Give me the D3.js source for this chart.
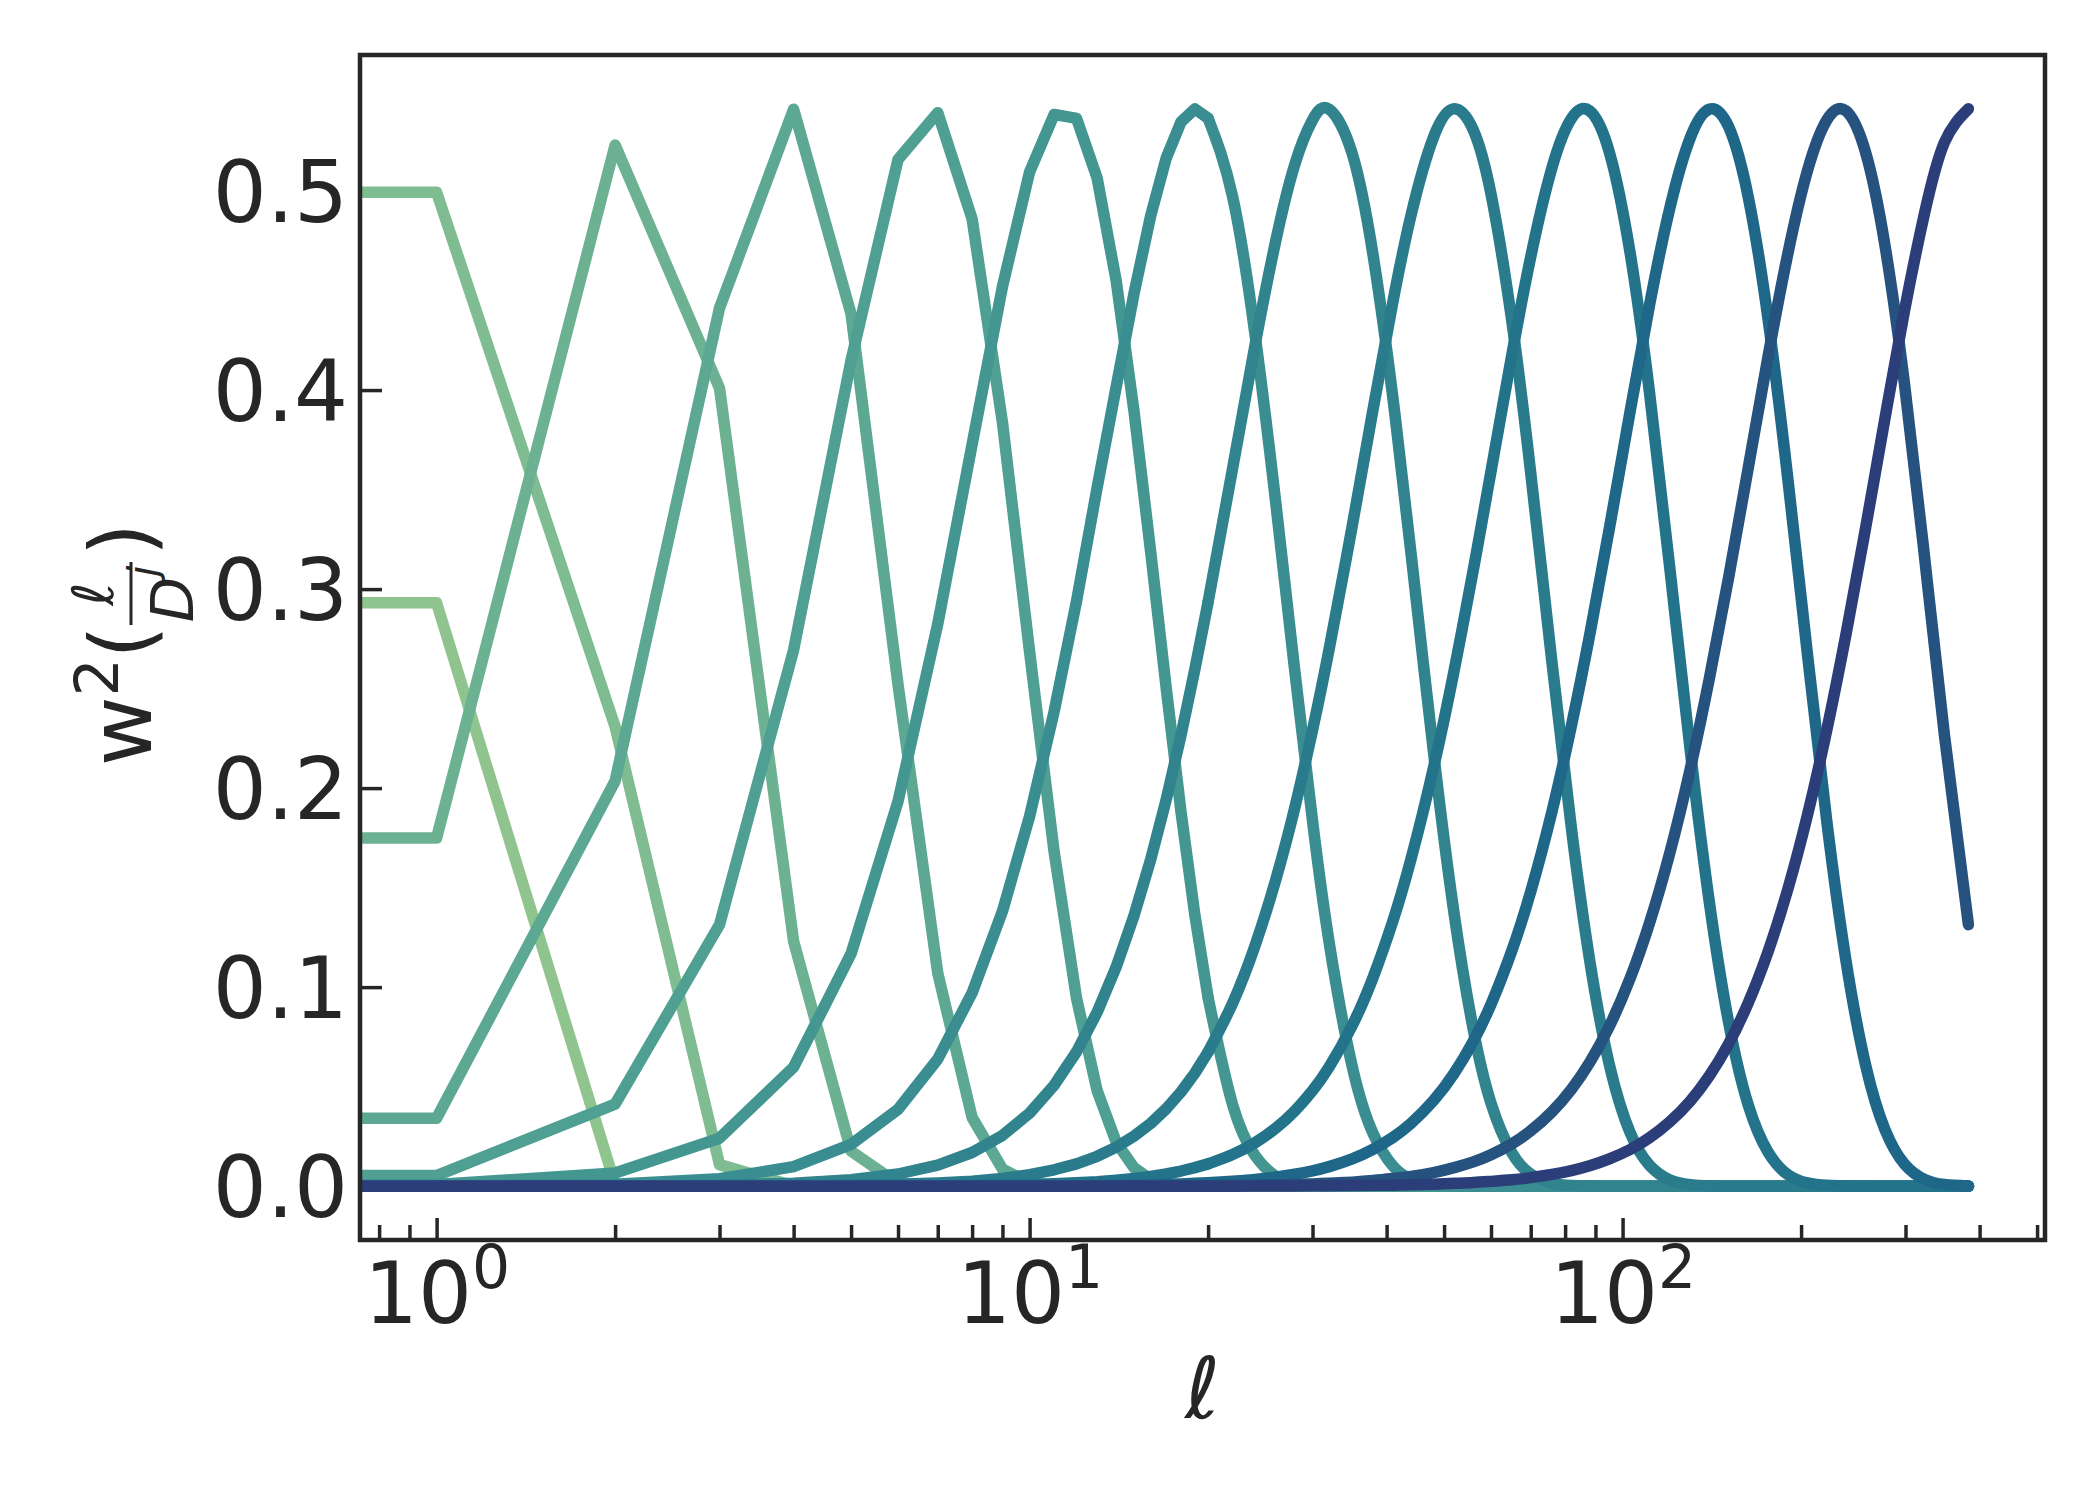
<!DOCTYPE html>
<html lang="en">
<head>
<meta charset="UTF-8">
<title>Needlet windows</title>
<script src="https://d3js.org/d3.v7.min.js"></script>
<style>
  body { margin: 0; background: #fff; }
  text { font-family: "DejaVu Sans", sans-serif; fill: #262626; }
  .band { fill: none; stroke-width: 11.5px; stroke-linecap: round; stroke-linejoin: round; }
</style>
</head>
<body>
<svg width="2100" height="1500"></svg>
<script>
const ells = [1, 2, 3, 4, 5, 6, 7, 8, 9, 10, 11, 12, 13, 14, 15, 16, 17, 18, 19, 20,
  22, 24, 26, 28, 30, 32, 35, 38, 41, 44, 48, 52, 56, 60, 65, 70, 76, 82, 88, 95,
  103, 111, 120, 130, 140, 151, 163, 176, 190, 205, 221, 238, 257, 277, 299, 323, 349, 383];

// w^2(l / D^j), one array per scale j
const w2_j0 = [0.2931, 0.0009, 0, 0, 0, 0, 0, 0, 0, 0, 0, 0, 0, 0, 0, 0, 0, 0, 0, 0,
  0, 0, 0, 0, 0, 0, 0, 0, 0, 0, 0, 0, 0, 0, 0, 0, 0, 0, 0, 0,
  0, 0, 0, 0, 0, 0, 0, 0, 0, 0, 0, 0, 0, 0, 0, 0, 0, 0];
const w2_j1 = [0.4994, 0.2309, 0.0108, 0.0001, 0, 0, 0, 0, 0, 0, 0, 0, 0, 0, 0, 0, 0, 0, 0, 0,
  0, 0, 0, 0, 0, 0, 0, 0, 0, 0, 0, 0, 0, 0, 0, 0, 0, 0, 0, 0,
  0, 0, 0, 0, 0, 0, 0, 0, 0, 0, 0, 0, 0, 0, 0, 0, 0, 0];
const w2_j2 = [0.1749, 0.5231, 0.4009, 0.1230, 0.0176, 0.0013, 0, 0, 0, 0, 0, 0, 0, 0, 0, 0, 0, 0, 0, 0,
  0, 0, 0, 0, 0, 0, 0, 0, 0, 0, 0, 0, 0, 0, 0, 0, 0, 0, 0, 0,
  0, 0, 0, 0, 0, 0, 0, 0, 0, 0, 0, 0, 0, 0, 0, 0, 0, 0];
const w2_j3 = [0.0341, 0.2036, 0.4412, 0.5411, 0.4382, 0.2520, 0.1071, 0.0345, 0.0086, 0.0017,
  0.0003, 0, 0, 0, 0, 0, 0, 0, 0, 0,
  0, 0, 0, 0, 0, 0, 0, 0, 0, 0, 0, 0, 0, 0, 0, 0, 0, 0, 0, 0,
  0, 0, 0, 0, 0, 0, 0, 0, 0, 0, 0, 0, 0, 0, 0, 0, 0, 0];
const w2_j4 = [0.0053, 0.0412, 0.1314, 0.2694, 0.4149, 0.5159, 0.5394, 0.4860, 0.3838, 0.2685,
  0.1679, 0.0944, 0.0479, 0.0221, 0.0092, 0.0035, 0.0012, 0.0004, 0.0001, 0,
  0, 0, 0, 0, 0, 0, 0, 0, 0, 0, 0, 0, 0, 0, 0, 0, 0, 0, 0, 0,
  0, 0, 0, 0, 0, 0, 0, 0, 0, 0, 0, 0, 0, 0, 0, 0, 0, 0];
const w2_j5 = [0.0008, 0.0066, 0.0241, 0.0598, 0.1168, 0.1934, 0.2824, 0.3727, 0.4520, 0.5096,
  0.5385, 0.5365, 0.5065, 0.4548, 0.3894, 0.3189, 0.2501, 0.1882, 0.1361, 0.0947,
  0.0409, 0.0154, 0.0050, 0.0014, 0.0004, 0.0001, 0, 0, 0, 0, 0, 0, 0, 0, 0, 0, 0, 0, 0, 0,
  0, 0, 0, 0, 0, 0, 0, 0, 0, 0, 0, 0, 0, 0, 0, 0, 0, 0];
const w2_j6 = [0.0001, 0.0010, 0.0037, 0.0098, 0.0210, 0.0386, 0.0638, 0.0971, 0.1381, 0.1858,
  0.2385, 0.2939, 0.3510, 0.4017, 0.4485, 0.4875, 0.5166, 0.5347, 0.5413, 0.5366,
  0.4971, 0.4278, 0.3438, 0.2590, 0.1835, 0.1225, 0.0601, 0.0261, 0.0101, 0.0035,
  0.0007, 0.0001, 0, 0, 0, 0, 0, 0, 0, 0,
  0, 0, 0, 0, 0, 0, 0, 0, 0, 0, 0, 0, 0, 0, 0, 0, 0, 0];
const w2_j7 = [0, 0.0001, 0.0005, 0.0014, 0.0032, 0.0061, 0.0106, 0.0169, 0.0255, 0.0367,
  0.0507, 0.0675, 0.0874, 0.1102, 0.1359, 0.1640, 0.1943, 0.2264, 0.2597, 0.2935,
  0.3607, 0.4226, 0.4748, 0.5133, 0.5357, 0.5411, 0.5188, 0.4668, 0.3958, 0.3174,
  0.2178, 0.1367, 0.0788, 0.0417, 0.0170, 0.0061, 0.0015, 0.0003, 0.0001, 0,
  0, 0, 0, 0, 0, 0, 0, 0, 0, 0, 0, 0, 0, 0, 0, 0, 0, 0];
const w2_j8 = [0, 0, 0.0001, 0.0002, 0.0005, 0.0009, 0.0016, 0.0025, 0.0039, 0.0058,
  0.0082, 0.0112, 0.0150, 0.0196, 0.0251, 0.0315, 0.0389, 0.0473, 0.0568, 0.0674,
  0.0920, 0.1209, 0.1538, 0.1901, 0.2291, 0.2698, 0.3317, 0.3912, 0.4445, 0.4881,
  0.5271, 0.5413, 0.5307, 0.4984, 0.4353, 0.3583, 0.2634, 0.1795, 0.1136, 0.0610,
  0.0268, 0.0105, 0.0032, 0.0007, 0.0001, 0, 0, 0, 0, 0, 0, 0, 0, 0, 0, 0, 0, 0];
const w2_j9 = [0, 0, 0, 0, 0.0001, 0.0001, 0.0002, 0.0004, 0.0006, 0.0008,
  0.0012, 0.0017, 0.0022, 0.0030, 0.0038, 0.0049, 0.0061, 0.0076, 0.0093, 0.0112,
  0.0159, 0.0218, 0.0291, 0.0378, 0.0480, 0.0599, 0.0807, 0.1053, 0.1333, 0.1646,
  0.2103, 0.2592, 0.3095, 0.3592, 0.4171, 0.4669, 0.5116, 0.5365, 0.5403, 0.5195,
  0.4687, 0.3990, 0.3118, 0.2195, 0.1431, 0.0821, 0.0405, 0.0170, 0.0058, 0.0016,
  0.0004, 0.0001, 0, 0, 0, 0, 0, 0];
const w2_j10 = [0, 0, 0, 0, 0, 0, 0, 0.0001, 0.0001, 0.0001,
  0.0002, 0.0002, 0.0003, 0.0004, 0.0006, 0.0007, 0.0009, 0.0011, 0.0014, 0.0017,
  0.0024, 0.0033, 0.0045, 0.0060, 0.0077, 0.0098, 0.0137, 0.0186, 0.0245, 0.0316,
  0.0430, 0.0567, 0.0728, 0.0914, 0.1180, 0.1480, 0.1881, 0.2315, 0.2769, 0.3305,
  0.3895, 0.4425, 0.4908, 0.5266, 0.5411, 0.5322, 0.4966, 0.4353, 0.3552, 0.2672,
  0.1833, 0.1136, 0.0607, 0.0284, 0.0110, 0.0034, 0.0008, 0.0001];
const w2_j11 = [0, 0, 0, 0, 0, 0, 0, 0, 0, 0,
  0, 0, 0, 0.0001, 0.0001, 0.0001, 0.0001, 0.0002, 0.0002, 0.0002,
  0.0003, 0.0005, 0.0006, 0.0009, 0.0011, 0.0014, 0.0020, 0.0028, 0.0038, 0.0049,
  0.0068, 0.0093, 0.0122, 0.0158, 0.0212, 0.0278, 0.0373, 0.0487, 0.0621, 0.0803,
  0.1045, 0.1321, 0.1669, 0.2094, 0.2547, 0.3060, 0.3613, 0.4171, 0.4686, 0.5102,
  0.5357, 0.5403, 0.5193, 0.4727, 0.4024, 0.3162, 0.2265, 0.1314];
const w2_j12 = [0, 0, 0, 0, 0, 0, 0, 0, 0, 0,
  0, 0, 0, 0, 0, 0, 0, 0, 0, 0,
  0, 0.0001, 0.0001, 0.0001, 0.0002, 0.0002, 0.0003, 0.0004, 0.0005, 0.0007,
  0.0010, 0.0014, 0.0018, 0.0024, 0.0032, 0.0043, 0.0059, 0.0078, 0.0102, 0.0137,
  0.0184, 0.0243, 0.0322, 0.0427, 0.0553, 0.0716, 0.0923, 0.1180, 0.1493, 0.1864,
  0.2292, 0.2770, 0.3309, 0.3858, 0.4403, 0.4888, 0.5245, 0.5413];

const bands = [w2_j0, w2_j1, w2_j2, w2_j3, w2_j4, w2_j5, w2_j6,
  w2_j7, w2_j8, w2_j9, w2_j10, w2_j11, w2_j12];

const yTicks = [0.0, 0.1, 0.2, 0.3, 0.4, 0.5];
const xMajor = [1, 10, 100];
const xMinor = [0.8, 0.9, 2, 3, 4, 5, 6, 7, 8, 9, 20, 30, 40, 50, 60, 70, 80, 90, 200, 300, 400, 500];

// crest palette, light green -> navy
const colors = ["#90c48f", "#7fbc91", "#6db193", "#5da893", "#4f9f92", "#449691", "#3a8d90",
  "#31848e", "#2a7c8d", "#23738b", "#1f6789", "#26527f", "#2c3e7a"];

const plotL = 360, plotR = 2045, plotT = 55, plotB = 1240;

const svg = d3.select("svg");
svg.append("rect").attr("width", 2100).attr("height", 1500).attr("fill", "#fff");

// matplotlib-like 5% margins
const lMin = d3.min(ells), lMax = d3.max(ells);
const span = Math.log10(lMax) - Math.log10(lMin);
const xLo = Math.pow(10, Math.log10(lMin) - 0.05 * span);
const xHi = Math.pow(10, Math.log10(lMax) + 0.05 * span);
const yMax = d3.max(bands, b => d3.max(b));
const x = d3.scaleLog().domain([xLo, xHi]).range([plotL, plotR]);
const y = d3.scaleLinear().domain([-0.05 * yMax, 1.05 * yMax]).range([plotB, plotT]);

// axes below the lines
const yAxis = d3.axisLeft(y).tickValues(yTicks).tickFormat(d3.format(".1f"))
  .tickSizeInner(-22).tickSizeOuter(0).tickPadding(12);
const gy = svg.append("g").attr("transform", `translate(${plotL},0)`).call(yAxis);
gy.select(".domain").remove();
gy.selectAll("line").attr("stroke", "#262626").attr("stroke-width", 3.5);
gy.selectAll("text").attr("font-size", 85).attr("font-family", "DejaVu Sans")
  .attr("fill", "#262626").attr("dy", "0.36em");

const xAxisMinor = d3.axisBottom(x).tickValues(xMinor).tickFormat("")
  .tickSizeInner(-15).tickSizeOuter(0);
const gxm = svg.append("g").attr("transform", `translate(0,${plotB})`).call(xAxisMinor);
gxm.select(".domain").remove();
gxm.selectAll("line").attr("stroke", "#262626").attr("stroke-width", 3.5);

const xAxis = d3.axisBottom(x).tickValues(xMajor).tickFormat(d => Math.round(Math.log10(d)))
  .tickSizeInner(-22).tickSizeOuter(0);
const gx = svg.append("g").attr("transform", `translate(0,${plotB})`).call(xAxis);
gx.select(".domain").remove();
gx.selectAll("line").attr("stroke", "#262626").attr("stroke-width", 3.5);
gx.selectAll("text").each(function(d) {
  const t = d3.select(this);
  const p = Math.round(Math.log10(d));
  t.text(null).attr("y", 83).attr("dy", null).attr("font-family", "DejaVu Sans")
    .attr("fill", "#262626").attr("font-size", 85);
  t.append("tspan").text("10");
  t.append("tspan").attr("font-size", 60).attr("dy", -35).text(p);
});

// clip to the plot frame
svg.append("defs").append("clipPath").attr("id", "plot")
  .append("rect").attr("x", plotL).attr("y", plotT)
  .attr("width", plotR - plotL).attr("height", plotB - plotT);

const lowLine = d3.line().x(d => x(d[0])).y(d => y(d[1])).curve(d3.curveLinear);
const highLine = d3.line().x(d => x(d[0])).y(d => y(d[1])).curve(d3.curveNatural);

const gl = svg.append("g").attr("clip-path", "url(#plot)");
bands.forEach((vals, j) => {
  const pts = ells.map((l, i) => [l, vals[i]]);
  // l = 0 sits far off to the left on the log axis, so the line enters flat
  const low = [[xLo, vals[0]]].concat(pts.filter(p => p[0] <= 20));
  const high = pts.filter(p => p[0] >= 20);
  gl.append("path").attr("class", "band").attr("stroke", colors[j]).attr("d", lowLine(low));
  gl.append("path").attr("class", "band").attr("stroke", colors[j]).attr("d", highLine(high));
});

// frame on top
svg.append("rect").attr("x", plotL).attr("y", plotT)
  .attr("width", plotR - plotL).attr("height", plotB - plotT)
  .attr("fill", "none").attr("stroke", "#262626").attr("stroke-width", 4.5);

// x label
svg.append("text").attr("x", (plotL + plotR) / 2).attr("y", 1418)
  .attr("text-anchor", "middle").attr("font-size", 85).attr("font-style", "italic")
  .text("ℓ");

// y label: w^2(l / D^j)
const yl = svg.append("g").attr("transform", "translate(151,766) rotate(-90)");
yl.append("text").attr("x", 0).attr("y", 0).attr("font-size", 85).text("w");
yl.append("text").attr("x", 69.5).attr("y", -33).attr("font-size", 60).text("2");
yl.append("text").attr("x", 107.5).attr("y", 0).attr("font-size", 85).text("(");
yl.append("text").attr("x", 172).attr("y", -38).attr("font-size", 57)
  .attr("font-style", "italic").attr("text-anchor", "middle").text("ℓ");
yl.append("line").attr("x1", 141).attr("x2", 204).attr("y1", -20).attr("y2", -20)
  .attr("stroke", "#262626").attr("stroke-width", 3);
const den = yl.append("text").attr("x", 172).attr("y", 42).attr("font-size", 59)
  .attr("font-style", "italic").attr("text-anchor", "middle");
den.append("tspan").text("D");
den.append("tspan").attr("font-size", 40).attr("dy", -36).text("j");
yl.append("text").attr("x", 210).attr("y", 0).attr("font-size", 85).text(")");
</script>
</body>
</html>
